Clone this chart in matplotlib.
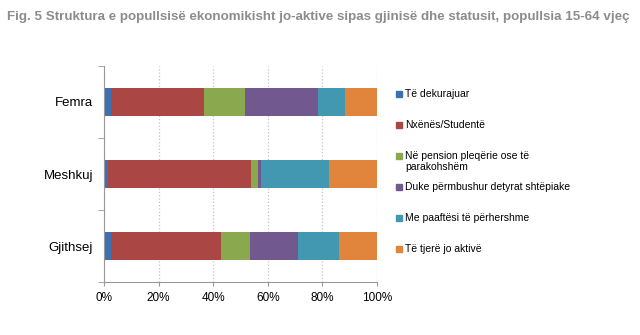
import numpy as np
import matplotlib
matplotlib.use("Agg")
import matplotlib.pyplot as plt
from matplotlib.patches import Rectangle
from matplotlib.ticker import PercentFormatter

plt.rcParams["font.family"] = ["Liberation Sans", "DejaVu Sans"]

# --- data (shares in %) ---
groups = ["Gjithsej", "Meshkuj", "Femra"]
series = ["Të dekurajuar", "Nxënës/Studentë",
          "Në pension pleqërie ose të\nparakohshëm",
          "Duke përmbushur detyrat shtëpiake",
          "Me paaftësi të përhershme", "Të tjerë jo aktivë"]
dekurajuar = [2.5, 1.6, 2.7]
studente = [40.3, 52.1, 33.8]
pension = [10.8, 2.6, 15.3]
shtepiake = [17.5, 1.2, 26.6]
paaftesi = [15.1, 24.9, 9.7]
tjere = [13.8, 17.6, 11.9]
values = [dekurajuar, studente, pension, shtepiake, paaftesi, tjere]
colors = ["#3e6fb0", "#aa4644", "#8aa84e", "#71588f", "#4198b0", "#e0853b"]

W, H = 640, 335
fig = plt.figure(figsize=(W / 100, H / 100), dpi=100)
ax = fig.add_axes([104 / W, 1 - 282 / H, 273 / W, 216 / H])

y = np.arange(len(groups))
left = np.zeros(len(groups))
for name, vals, c in zip(series, values, colors):
    vals = np.array(vals)
    ax.barh(y, vals, left=left, height=0.4, color=c, label=name)
    left += vals

ax.set_xlim(0, 100)
ax.set_ylim(-0.5, 2.5)
ax.set_yticks(y)
ax.set_yticklabels(groups, fontsize=9.5)
ax.set_yticks([-0.5, 0.5, 1.5, 2.5], minor=True)
ax.tick_params(axis="y", which="major", length=0, pad=8)
ax.tick_params(axis="y", which="minor", length=4, color="#999999")
ax.set_xticks(np.arange(0, 101, 20))
ax.xaxis.set_major_formatter(PercentFormatter(decimals=0))
ax.tick_params(axis="x", length=3, color="#999999", labelsize=8.5, pad=4)
ax.grid(axis="x", color="#c4c4c4", linestyle=":", linewidth=0.9)
ax.set_axisbelow(True)
for s in ["top", "right"]:
    ax.spines[s].set_visible(False)
for s in ["left", "bottom"]:
    ax.spines[s].set_color("#999999")

# legend drawn by hand so the two-line entry keeps the even spacing
for i, (name, c) in enumerate(zip(series, colors)):
    yy = 94 + 31 * i
    fig.patches.append(Rectangle((396 / W, 1 - (yy + 3) / H), 6 / W, 6 / H,
                                 color=c, transform=fig.transFigure))
    fig.text(405 / W, 1 - (yy - 5) / H, name, fontsize=7.5, va="top",
             linespacing=1.15)

title = fig.text(7 / W, 1 - 17 / H,
                 "Fig. 5 Struktura e popullsisë ekonomikisht jo-aktive sipas gjinisë "
                 "dhe statusit, popullsia 15-64 vjeç",
                 fontsize=10.5, fontweight="bold", color="#8c8c8c", va="center")
# shrink title to the width it has in the original
r = fig.canvas.get_renderer()
tw = title.get_window_extent(r).width
title.set_fontsize(10.5 * min(1.0, 626 / tw))

fig.savefig("out.png", dpi=100)
